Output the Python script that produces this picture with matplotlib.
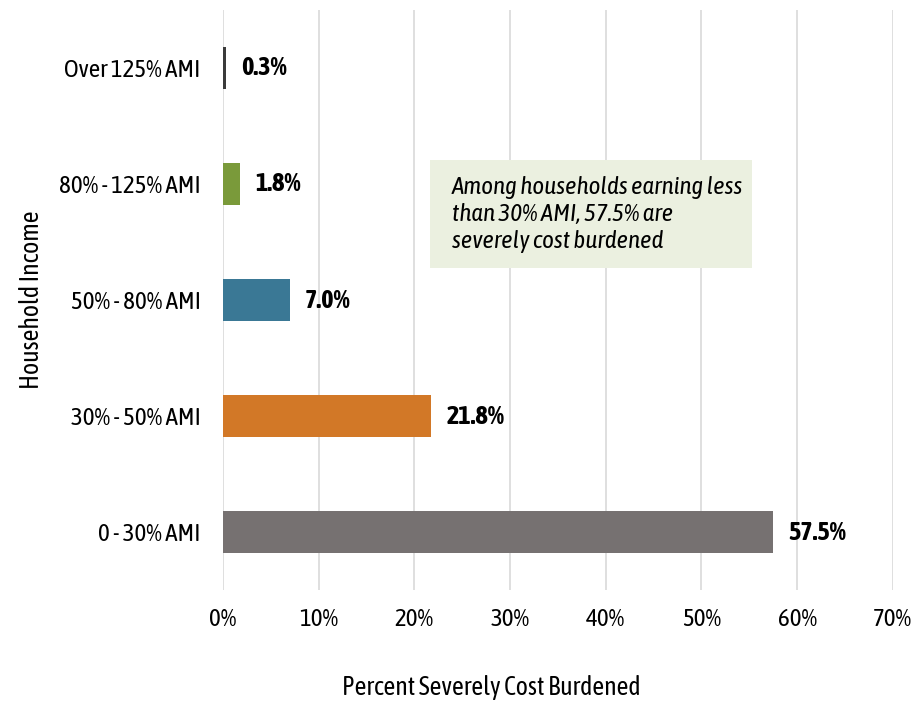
import matplotlib
matplotlib.use("Agg")
import matplotlib.pyplot as plt
from matplotlib import font_manager
from matplotlib.patches import Rectangle
from matplotlib.ticker import PercentFormatter

# the reference uses a condensed gothic font; pick a narrow family that has a bold face
weights = {}
for f in font_manager.fontManager.ttflist:
    if 'Narrow' in f.name or 'Condensed' in f.name:
        weights.setdefault(f.name, set()).add(f.weight)
narrow = None
for name, w in weights.items():
    if any(x in (700, 'bold') for x in w):
        narrow = name
        break
if narrow is None and weights:
    narrow = list(weights)[0]
plt.rcParams['font.family'] = [narrow or 'DejaVu Sans', 'DejaVu Sans']

# data, bottom to top
categories = ['0 - 30% AMI', '30% - 50% AMI', '50% - 80% AMI', '80% - 125% AMI', 'Over 125% AMI']
values = [57.5, 21.8, 7.0, 1.8, 0.3]
colors = ['#767171', '#d27827', '#3a7895', '#7a9a3a', '#3b3b3b']
x_ticks = [0, 10, 20, 30, 40, 50, 60, 70]
note = "Among households earning less\nthan 30% AMI, 57.5% are\nseverely cost burdened"

fs = 18

fig = plt.figure(figsize=(9.13, 7.01), dpi=100)
ax = fig.add_axes([0.244, 0.158, 0.734, 0.828])

ax.barh(range(len(categories)), values, height=0.36, color=colors, zorder=3)
for i, v in enumerate(values):
    ax.annotate(f"{v:.1f}%", (v, i), xytext=(11, 0), textcoords='offset points',
                va='center', ha='left', fontsize=fs + 1, fontweight='bold')

ax.set_xlim(0, 70)
ax.set_ylim(-0.5, len(categories) - 0.5)
ax.set_xticks(x_ticks)
ax.xaxis.set_major_formatter(PercentFormatter(decimals=0))
ax.set_yticks(range(len(categories)))
ax.set_yticklabels(categories)
ax.tick_params(axis='both', length=0, labelsize=fs)
ax.tick_params(axis='x', pad=13)
ax.tick_params(axis='y', pad=16)
ax.grid(axis='x', color='#d9d9d9', linewidth=1.2, zorder=0)
ax.set_axisbelow(True)
for s in ax.spines.values():
    s.set_visible(False)

fig.text(32 / 913, 1 - 300 / 701, 'Household Income', rotation=90,
         ha='center', va='center', fontsize=fs + 0.5)
fig.text(491 / 913, 1 - 688 / 701, 'Percent Severely Cost Burdened',
         ha='center', va='center', fontsize=fs + 0.5)

# note box
ax.add_patch(Rectangle((21.6, 2.276), 33.7, 0.931, facecolor='#ebf0e0',
                       edgecolor='none', zorder=4))
ax.text(23.9, 2.74, note, ha='left', va='center', fontsize=fs, style='italic',
        linespacing=1.22, zorder=5)

fig.savefig('out.png', dpi=100)
